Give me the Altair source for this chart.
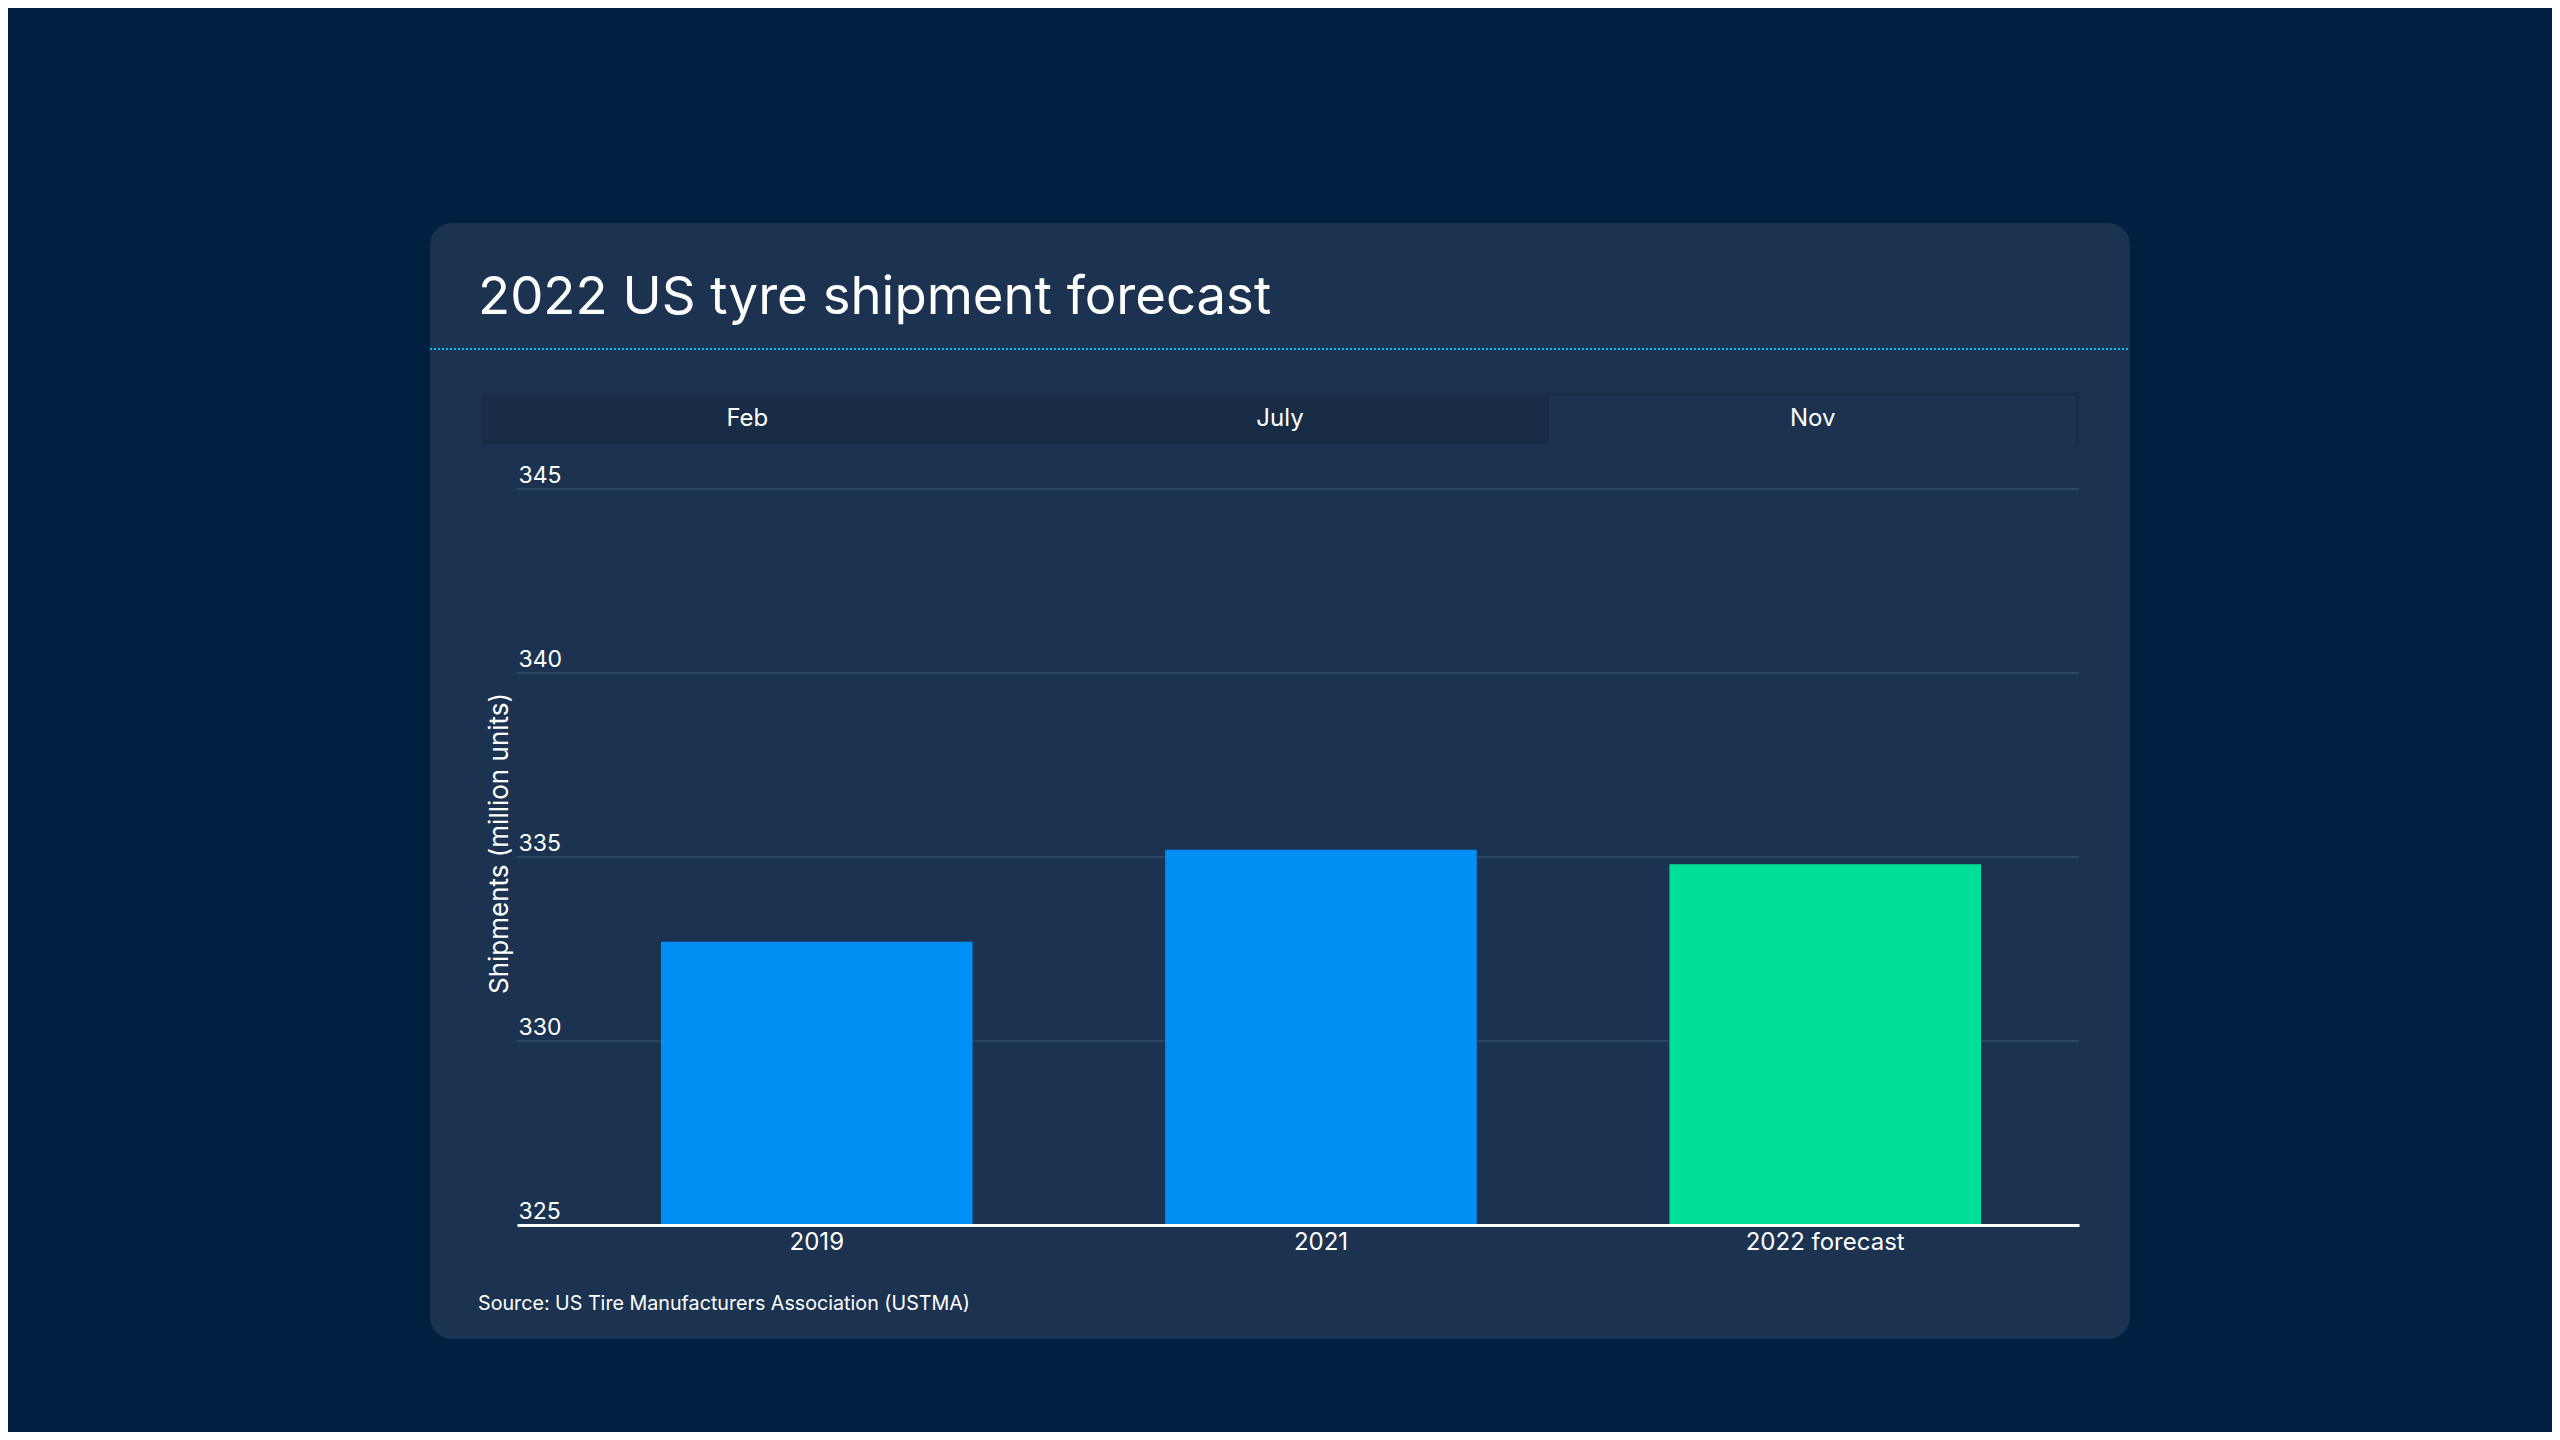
import altair as alt
import pandas as pd

# ---- data ----
years = ["2019", "2021", "2022 forecast"]
shipments = [332.7, 335.2, 334.8]
bar_colors = ["#008ff5", "#008ff5", "#00df9a"]
y_ticks = [325, 330, 335, 340, 345]
tabs = ["Feb", "July", "Nov"]
title_text = "2022 US tyre shipment forecast"
source_text = "Source: US Tire Manufacturers Association (USTMA)"
y_title = "Shipments (million units)"

# ---- style ----
W, H = 1562, 736
FONT = "Inter"
OUTER = "#001f41"
CARD = "#1b3350"
TAB_DARK = "#182c46"
GRID = "#3f5877"

one = pd.DataFrame({"k": [0]})
bars_df = pd.DataFrame({"year": years, "shipments": shipments})
grid_df = pd.DataFrame({"v": y_ticks})
tabs_df = pd.DataFrame({"tab": tabs})

yscale = alt.Scale(domain=[325, 345], zero=False, nice=False)
y_axis = alt.Axis(
    values=y_ticks, title=y_title, grid=False, domain=False, ticks=False, tickSize=0,
    labelAlign="left", labelBaseline="alphabetic", labelPadding=-1, labelOffset=-7,
    labelFont=FONT, labelFontSize=23, labelColor="white", labelFlush=False,
    labelOverlap=False, titleFont=FONT, titleFontSize=26, titleFontWeight="normal",
    titleColor="white", titleAngle=270, titleX=-10, titleY=354, titleAlign="center",
    titleBaseline="alphabetic", zindex=1,
)

card = alt.Chart(one).mark_rect(fill=CARD, cornerRadius=22).encode(
    x=alt.value(-87), x2=alt.value(1613), y=alt.value(-266), y2=alt.value(850)
)
divider = alt.Chart(one).mark_rule(color="#00c4ef", strokeWidth=2, strokeDash=[2, 2]).encode(
    x=alt.value(-87), x2=alt.value(1613), y=alt.value(-140)
)
title = alt.Chart(one).mark_text(
    text=title_text, font=FONT, fontSize=52.7, color="white", align="left", baseline="alphabetic"
).encode(x=alt.value(-39), y=alt.value(-175))

tab_bar = alt.Chart(one).mark_rect(fill=TAB_DARK).encode(
    x=alt.value(-36), x2=alt.value(1562), y=alt.value(-96), y2=alt.value(-45)
)
tab_sel = alt.Chart(one).mark_rect(fill=CARD).encode(
    x=alt.value(1032), x2=alt.value(1559), y=alt.value(-93), y2=alt.value(-45)
)
tab_text = alt.Chart(tabs_df).mark_text(
    font=FONT, fontSize=24, color="white", baseline="alphabetic"
).encode(
    x=alt.X("tab:N", sort=tabs, scale=alt.Scale(type="point", padding=0.5, range=[-36, 1562]), axis=None),
    y=alt.value(-63),
    text="tab:N",
)

grid = alt.Chart(grid_df).mark_rule(color=GRID, strokeWidth=1).encode(
    y=alt.Y("v:Q", scale=yscale, axis=y_axis, title=y_title),
    x=alt.value(0),
    x2=alt.value(W),
)

bars = alt.Chart(bars_df).mark_bar().encode(
    x=alt.X(
        "year:N",
        sort=years,
        scale=alt.Scale(paddingInner=0.382, paddingOuter=0.24, align=0.595),
        axis=alt.Axis(
            title=None, labelAngle=0, labelFont=FONT, labelFontSize=24, labelColor="white",
            labelPadding=5, ticks=False, tickSize=0, domainColor="white", domainWidth=3,
            grid=False, zindex=1,
        ),
    ),
    y=alt.Y("shipments:Q", scale=yscale, axis=y_axis, title=y_title),
    y2=alt.datum(325),
    color=alt.Color("year:N", scale=alt.Scale(domain=years, range=bar_colors), legend=None),
)

source = alt.Chart(one).mark_text(
    text=source_text, font=FONT, fontSize=19.7, color="white", align="left", baseline="alphabetic"
).encode(x=alt.value(-39), y=alt.value(821))

chart = (
    alt.layer(card, divider, title, tab_bar, tab_sel, tab_text, grid, bars, source)
    .resolve_scale(x="independent")
    .properties(
        width=W,
        height=H,
        autosize=alt.AutoSizeParams(type="none"),
        padding={"left": 509, "top": 481, "right": 473, "bottom": 207},
        background=OUTER,
    )
    .configure_view(stroke=None)
)

chart.save("out.html", embed_options={"renderer": "svg", "actions": False})
